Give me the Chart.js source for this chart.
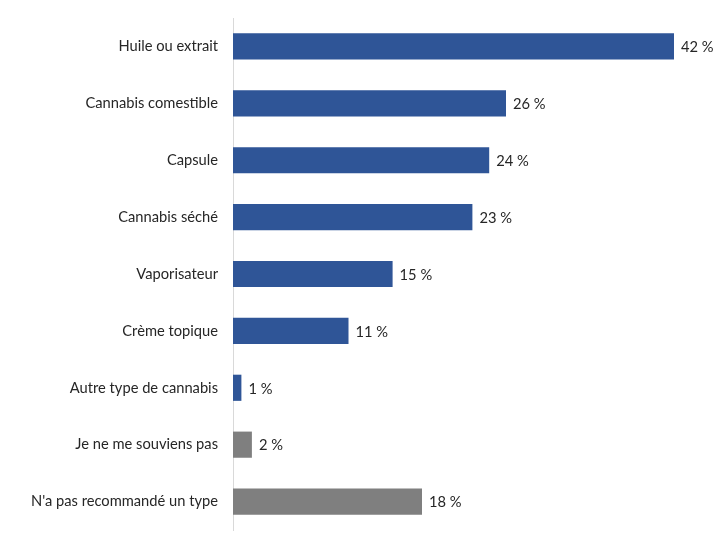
<!DOCTYPE html>
<html>
<head>
<meta charset="utf-8">
<script src="https://cdn.jsdelivr.net/npm/chart.js@4"></script>
<style>
body { margin: 0; background: #fff; }
#wrap { width: 720px; height: 540px; }
</style>
</head>
<body>
<div id="wrap"><canvas id="grafico" width="720" height="540"></canvas></div>
<script>
const categorias = [
  "Huile ou extrait",
  "Cannabis comestible",
  "Capsule",
  "Cannabis séché",
  "Vaporisateur",
  "Crème topique",
  "Autre type de cannabis",
  "Je ne me souviens pas",
  "N'a pas recommandé un type"
]
// longueur des barres et étiquettes affichées
const valores = [42, 26, 24.4, 22.8, 15.2, 11, 0.8, 1.8, 18]
const etiquetas = ["42 %", "26 %", "24 %", "23 %", "15 %", "11 %", "1 %", "2 %", "18 %"]
const cores = ["#2F5597","#2F5597","#2F5597","#2F5597","#2F5597","#2F5597","#2F5597","#7F7F7F","#7F7F7F"]

const fonte = { family: "Lato, 'Liberation Sans', sans-serif", size: 14.7 }

// rótulos "42 %" no fim das barras
const rotulos = {
  id: "rotulos",
  afterDatasetsDraw(chart) {
    const ctx = chart.ctx
    const meta = chart.getDatasetMeta(0)
    ctx.save()
    ctx.font = fonte.size + "px " + fonte.family
    ctx.fillStyle = "#262626"
    ctx.textAlign = "left"
    ctx.textBaseline = "middle"
    meta.data.forEach((bar, i) => {
      ctx.fillText(etiquetas[i], bar.x + 7, bar.y + 1)
    })
    ctx.restore()
  }
}

const grafico = new Chart(document.getElementById("grafico").getContext("2d"), {
  type: "bar",
  data: {
    labels: categorias,
    datasets: [{
      data: valores,
      backgroundColor: cores,
      borderWidth: 0,
      categoryPercentage: 1,
      barPercentage: 0.46
    }]
  },
  options: {
    indexAxis: "y",
    responsive: false,
    animation: false,
    layout: { padding: { top: 18, right: 46, bottom: 10, left: 0 } },
    plugins: {
      legend: { display: false },
      tooltip: { enabled: false }
    },
    scales: {
      x: {
        display: false,
        min: 0,
        max: 42
      },
      y: {
        afterFit: s => {
          s.width = 233
          s.paddingTop = 0
          s.paddingBottom = 0
        },
        grid: { display: false, drawTicks: false },
        border: { display: true, color: "#D9D9D9", width: 1 },
        ticks: { color: "#262626", font: fonte, padding: 15 }
      }
    }
  },
  plugins: [rotulos]
})
</script>
</body>
</html>
